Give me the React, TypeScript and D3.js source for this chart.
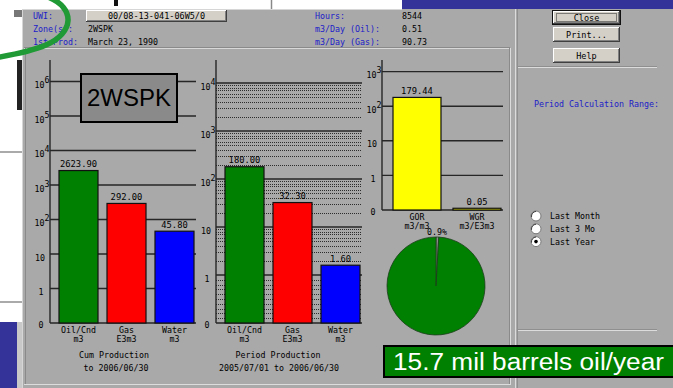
import React from "react";
import * as d3 from "d3";

// ---- data ----
const prodCategories = ["Oil/Cnd", "Gas", "Water"];
const prodUnits = ["m3", "E3m3", "m3"];
const prodColors = ["#008000", "#ff0000", "#0000ff"];
const cumValues = [2623.9, 292.0, 45.8];
const periodValues = [180.0, 32.3, 1.6];

const ratioCategories = ["GOR", "WGR"];
const ratioUnits = ["m3/m3", "m3/E3m3"];
const ratioColors = ["#ffff00", "#ffff00"];
const ratioValues = [179.44, 0.05];

const waterCutPct = 0.9;

const headerLeftLabels = ["UWI:", "Zone(s):", "1st Prod:"];
const headerLeftValues = ["00/08-13-041-06W5/0", "2WSPK", "March 23, 1990"];
const headerRightLabels = ["Hours:", "m3/Day (Oil):", "m3/Day (Gas):"];
const headerRightValues = ["8544", "0.51", "90.73"];
const buttonLabels = ["Close", "Print...", "Help"];
const rangeOptions = ["Last Month", "Last 3 Mo", "Last Year"];
const selectedRange = 2;

const MONO = "'DejaVu Sans Mono', monospace";
const SANS = "'Liberation Sans', Arial, sans-serif";
const BG = "#a9a9a9";
const BLUE_TXT = "#2020c8";
const INK = "#000000";

type ChartSpec = {
  axisX: number;
  baseY: number;
  decade: number;
  maxExp: number;
  axisTop: number;
  gridRight: number;
  barRange: [number, number];
  padInner: number;
  minor: boolean;
};

// value -> y, linear for 0..1, log10 above
function makeY(spec: ChartSpec) {
  const y1 = spec.baseY - spec.decade;
  const lin = d3.scaleLinear().domain([0, 1]).range([spec.baseY, y1]);
  const log = d3
    .scaleLog()
    .domain([1, Math.pow(10, spec.maxExp)])
    .range([y1, y1 - spec.maxExp * spec.decade]);
  return (v: number) => (v < 1 ? lin(v) : log(v));
}

function TickLabel({ x, y, exp }: { x: number; y: number; exp: number }) {
  if (exp >= 2) {
    return (
      <g fontFamily={MONO} fontSize={8.3} fill={INK}>
        <text x={x - 5.5} y={y + 6.5} textAnchor="end">10</text>
        <text x={x - 5.5} y={y + 1.5}>{exp}</text>
      </g>
    );
  }
  const label = exp === 1 ? "10" : exp === 0 ? "1" : "0";
  return (
    <text x={x - (exp === 1 ? 10 : 9)} y={y + (exp < 0 ? 5 : 6.5)} textAnchor="middle" fontFamily={MONO} fontSize={8.3} fill={INK}>
      {label}
    </text>
  );
}

function LogBarChart({
  spec,
  categories,
  units,
  values,
  colors,
}: {
  spec: ChartSpec;
  categories: string[];
  units: string[];
  values: number[];
  colors: string[];
}) {
  const y = makeY(spec);
  const x = d3.scaleBand<string>().domain(categories).range(spec.barRange).paddingInner(spec.padInner).paddingOuter(0);
  const exps = d3.range(0, spec.maxExp + 1);
  const fmt = d3.format(".2f");

  const minorVals: number[] = [];
  if (spec.minor) {
    for (let k = 1; k <= 9; k++) minorVals.push(k / 10);
    for (let e = 0; e < spec.maxExp; e++) for (let k = 2; k <= 9; k++) minorVals.push(k * Math.pow(10, e));
  }

  return (
    <g>
      {minorVals.map((v, i) => (
        <line key={"m" + i} x1={spec.axisX} x2={spec.gridRight} y1={Math.round(y(v)) + 0.5} y2={Math.round(y(v)) + 0.5}
          stroke="#2c2c2c" strokeWidth={1} strokeDasharray="1,1" />
      ))}
      {exps.map((e) => (
        <line key={"g" + e} x1={spec.axisX} x2={spec.gridRight} y1={y(Math.pow(10, e))} y2={y(Math.pow(10, e))}
          stroke="#262626" strokeWidth={1.4} />
      ))}
      <line x1={spec.axisX} x2={spec.gridRight} y1={spec.baseY} y2={spec.baseY} stroke="#262626" strokeWidth={1.4} />
      {categories.map((c, i) => {
        const top = y(values[i]);
        const bx = x(c)!;
        const bw = x.bandwidth();
        return (
          <g key={c}>
            <rect x={bx} y={top} width={bw} height={spec.baseY - top} fill={colors[i]} stroke="#111" strokeWidth={1.2} />
            <text x={bx + bw / 2} y={top - 3.5} textAnchor="middle" fontFamily={MONO} fontSize={8.8} fill={INK}>
              {fmt(values[i])}
            </text>
            <text x={bx + bw / 2} y={spec.baseY + 10} textAnchor="middle" fontFamily={MONO} fontSize={8.3} fill={INK}>
              {c}
            </text>
            <text x={bx + bw / 2} y={spec.baseY + 18.5} textAnchor="middle" fontFamily={MONO} fontSize={8.3} fill={INK}>
              {units[i]}
            </text>
          </g>
        );
      })}
      <line x1={spec.axisX} x2={spec.axisX} y1={spec.axisTop} y2={spec.baseY} stroke="#262626" strokeWidth={1.4} />
      <TickLabel x={spec.axisX} y={spec.baseY} exp={-1} />
      {exps.map((e) => (
        <TickLabel key={"t" + e} x={spec.axisX} y={y(Math.pow(10, e))} exp={e} />
      ))}
    </g>
  );
}

function Button3D({ x, y, w, h, label, focused }: { x: number; y: number; w: number; h: number; label: string; focused?: boolean }) {
  return (
    <g>
      {focused && <rect x={x - 1} y={y - 1} width={w + 2} height={h + 2} fill="#111" />}
      <rect x={x} y={y} width={w} height={h} fill="#d4d0c8" />
      <line x1={x} y1={y + 0.5} x2={x + w} y2={y + 0.5} stroke="#ffffff" />
      <line x1={x + 0.5} y1={y} x2={x + 0.5} y2={y + h} stroke="#ffffff" />
      <line x1={x} y1={y + h - 0.5} x2={x + w} y2={y + h - 0.5} stroke="#404040" />
      <line x1={x + w - 0.5} y1={y} x2={x + w - 0.5} y2={y + h} stroke="#404040" />
      <line x1={x + 1} y1={y + h - 1.5} x2={x + w - 1} y2={y + h - 1.5} stroke="#808080" />
      <line x1={x + w - 1.5} y1={y + 1} x2={x + w - 1.5} y2={y + h - 1} stroke="#808080" />
      {focused && (
        <rect x={x + 3.5} y={y + 2.5} width={w - 7} height={h - 5} fill="none" stroke="#222" strokeDasharray="1,1" />
      )}
      <text x={x + w / 2} y={y + h / 2 + 3} textAnchor="middle" fontFamily={MONO} fontSize={8.5} fill={INK}>
        {label}
      </text>
    </g>
  );
}

export default function App() {
  const cumSpec: ChartSpec = {
    axisX: 50, baseY: 323, decade: 34.5, maxExp: 6, axisTop: 60, gridRight: 196,
    barRange: [59, 194], padInner: 9 / 48, minor: false,
  };
  const periodSpec: ChartSpec = {
    axisX: 216, baseY: 323, decade: 48, maxExp: 4, axisTop: 60, gridRight: 362,
    barRange: [225, 360], padInner: 9 / 48, minor: true,
  };
  const ratioSpec: ChartSpec = {
    axisX: 382, baseY: 210, decade: 34.6, maxExp: 3, axisTop: 60, gridRight: 503,
    barRange: [393, 501], padInner: 0.2, minor: false,
  };

  const pieCx = 436;
  const pieCy = 286;
  const pieR = 49;
  const pieData = d3.pie<number>().sort(null).startAngle(0).endAngle(2 * Math.PI)([waterCutPct, 100 - waterCutPct]);
  const arc = d3.arc<d3.PieArcDatum<number>>().innerRadius(0).outerRadius(pieR);
  const pieColors = ["#8c8c8c", "#008000"];

  return (
    <svg width={673} height={388} style={{ position: "absolute", left: 0, top: 0 }} xmlns="http://www.w3.org/2000/svg">
      {/* desktop behind the dialog */}
      <rect x={0} y={0} width={673} height={388} fill="#ffffff" />
      <rect x={402} y={0} width={271} height={9} fill="#333399" />
      <rect x={114} y={0} width={4} height={6} fill="#111" />
      <line x1={271.5} y1={0} x2={271.5} y2={9} stroke="#888" strokeWidth={1.5} />
      <rect x={14} y={10} width={8} height={7} fill="#777" />
      <rect x={17} y={60} width={5} height={50} fill="#222" />
      <line x1={0} y1={152} x2={22} y2={152} stroke="#aaa" strokeWidth={2} />
      <line x1={0} y1={302} x2={22} y2={302} stroke="#aaa" strokeWidth={2} />
      <rect x={0} y={322} width={17} height={66} fill="#333399" />
      <rect x={17} y={322} width={5} height={66} fill="#c8c8c8" />

      {/* dialog body */}
      <rect x={22} y={9} width={651} height={379} fill={BG} />
      <line x1={22.5} y1={9} x2={22.5} y2={388} stroke="#d6d6d6" />
      <line x1={22} y1={9.5} x2={402} y2={9.5} stroke="#d6d6d6" />

      {/* header */}
      {headerLeftLabels.map((t, i) => (
        <text key={t} x={33} y={19 + i * 13} fontFamily={MONO} fontSize={8.3} fill={BLUE_TXT}>{t}</text>
      ))}
      <Button3D x={86} y={10} w={141} h={12} label={headerLeftValues[0]} />
      {headerLeftValues.slice(1).map((t, i) => (
        <text key={t} x={88} y={32 + i * 13} fontFamily={MONO} fontSize={8.3} fill={INK}>{t}</text>
      ))}
      {headerRightLabels.map((t, i) => (
        <text key={t} x={315} y={19 + i * 13} fontFamily={MONO} fontSize={8.3} fill={BLUE_TXT}>{t}</text>
      ))}
      {headerRightValues.map((t, i) => (
        <text key={t} x={402} y={19 + i * 13} fontFamily={MONO} fontSize={8.3} fill={INK}>{t}</text>
      ))}

      {/* chart panel frame */}
      <line x1={24} y1={48.5} x2={510} y2={48.5} stroke="#d8d8d8" />
      <line x1={24} y1={47.5} x2={510} y2={47.5} stroke="#8a8a8a" />
      <line x1={25.5} y1={48} x2={25.5} y2={384} stroke="#8a8a8a" />
      <line x1={510.5} y1={48} x2={510.5} y2={384} stroke="#dcdcdc" />
      <line x1={509.5} y1={48} x2={509.5} y2={384} stroke="#8a8a8a" />
      <line x1={24} y1={384.5} x2={511} y2={384.5} stroke="#dcdcdc" />

      {/* right panel */}
      <line x1={515.5} y1={9} x2={515.5} y2={388} stroke="#dcdcdc" />
      <line x1={517.5} y1={9} x2={517.5} y2={388} stroke="#8f8f8f" />
      {buttonLabels.map((b, i) => (
        <Button3D key={b} x={553} y={[11, 27, 48][i]} w={67} h={[13, 15, 15][i]} label={b} focused={i === 0} />
      ))}
      <line x1={518} y1={66.5} x2={657} y2={66.5} stroke="#8f8f8f" />
      <line x1={518} y1={67.5} x2={657} y2={67.5} stroke="#dcdcdc" />
      <text x={534} y={107} fontFamily={MONO} fontSize={8.3} fill={BLUE_TXT}>Period Calculation Range:</text>
      {rangeOptions.map((t, i) => {
        const cy = 216 + i * 12.8;
        return (
          <g key={t}>
            <circle cx={536} cy={cy} r={5} fill="#ffffff" stroke="#7a7a7a" strokeWidth={1} />
            <path d={`M ${531.5} ${cy + 1} A 5 5 0 0 1 ${536} ${cy - 4.6}`} fill="none" stroke="#404040" strokeWidth={1} />
            {i === selectedRange && <circle cx={536} cy={cy} r={1.8} fill="#000" />}
            <text x={550} y={cy + 3} fontFamily={MONO} fontSize={8.3} fill={INK}>{t}</text>
          </g>
        );
      })}
      <line x1={518} y1={329.5} x2={657} y2={329.5} stroke="#8f8f8f" />
      <line x1={518} y1={330.5} x2={657} y2={330.5} stroke="#dcdcdc" />

      {/* charts */}
      <LogBarChart spec={cumSpec} categories={prodCategories} units={prodUnits} values={cumValues} colors={prodColors} />
      <LogBarChart spec={periodSpec} categories={prodCategories} units={prodUnits} values={periodValues} colors={prodColors} />
      <LogBarChart spec={ratioSpec} categories={ratioCategories} units={ratioUnits} values={ratioValues} colors={ratioColors} />

      <text x={114} y={358} textAnchor="middle" fontFamily={MONO} fontSize={8.3} fill={INK}>Cum Production</text>
      <text x={116} y={370.5} textAnchor="middle" fontFamily={MONO} fontSize={8.3} fill={INK}>to 2006/06/30</text>
      <text x={278} y={358} textAnchor="middle" fontFamily={MONO} fontSize={8.3} fill={INK}>Period Production</text>
      <text x={279} y={370.5} textAnchor="middle" fontFamily={MONO} fontSize={8.3} fill={INK}>2005/07/01 to 2006/06/30</text>

      {/* zone tag */}
      <rect x={81} y={74} width={96} height={48} fill="#8a8a8a" stroke="#000" strokeWidth={2} />
      <text x={129} y={106} textAnchor="middle" fontFamily={SANS} fontSize={23} fill="#000" textLength={84} lengthAdjust="spacingAndGlyphs">
        2WSPK
      </text>

      {/* water cut pie */}
      <g transform={`translate(${pieCx},${pieCy})`}>
        {pieData.map((d, i) => (
          <path key={i} d={arc(d)!} fill={pieColors[i]} stroke="#1d3d1d" strokeWidth={0.8} />
        ))}
      </g>
      <text x={437} y={234.5} textAnchor="middle" fontFamily={MONO} fontSize={8.3} fill={INK}>{`${waterCutPct}%`}</text>

      {/* annotation */}
      <rect x={384} y={346} width={292} height={31} fill="#008000" stroke="#000" strokeWidth={2} />
      <text x={393} y={370} fontFamily={SANS} fontSize={23.5} fill="#ffffff" textLength={271} lengthAdjust="spacingAndGlyphs">
        15.7 mil barrels oil/year
      </text>
      <path d="M 48 -3 C 76 8, 74 33, 46 45 C 32 51, 12 55, -6 58" fill="none" stroke="#1f9a35" strokeWidth={5.5} />
    </svg>
  );
}
